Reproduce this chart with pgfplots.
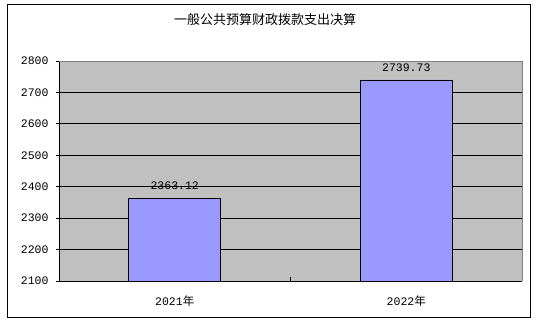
\documentclass[border=0pt]{standalone}
\usepackage{pgfplots}
\pgfplotsset{compat=1.18}
\usepackage{fontspec}
\setmainfont{Liberation Mono}
\newfontfamily\cjk{Noto Sans CJK SC}
\definecolor{plotbg}{RGB}{192,192,192}
\definecolor{barfill}{RGB}{153,153,255}
\definecolor{framegray}{RGB}{128,128,128}

\begin{document}
\begin{tikzpicture}[x=1pt,y=1pt]
% page and outer frame
\fill[white] (0,0) rectangle (537,329);
\draw[black, line width=1pt] (7,12) rectangle (530,324);
\node[font=\cjk\fontsize{13}{13}\selectfont] at (265,309) {一般公共预算财政拨款支出决算};
\begin{axis}[
  at={(59pt,48pt)}, anchor=south west,
  scale only axis, width=463pt, height=220pt,
  xmin=-0.5, xmax=1.5, ymin=2100, ymax=2800,
  ytick={2100,2200,...,2800},
  xtick={0,1},
  xticklabels={{2021{\cjk 年}},{2022{\cjk 年}}},
  extra x ticks={0.5}, extra x tick labels={},
  extra x tick style={tick align=inside, major tick length=4pt, xtick style={draw=black, line width=0.8pt}},
  xtick style={draw=none},
  ytick style={draw=black, line width=0.8pt},
  tick align=outside, major tick length=3pt,
  axis x line*=bottom, axis y line*=left,
  axis line style={black, line width=0.8pt, -},
  axis background/.style={fill=plotbg},
  ymajorgrids, major grid style={black, line width=0.8pt},
  /pgf/number format/1000 sep={},
  /pgf/number format/assume math mode=true,
  tick label style={font=\fontsize{11.5}{12}\selectfont},
  yticklabel style={xshift=-4pt},
  xticklabel style={yshift=-8pt},
  ybar, bar width=92pt,
  nodes near coords={\pgfmathprintnumber[fixed, precision=2, fixed zerofill, 1000 sep={}, assume math mode=true]{\pgfplotspointmeta}},
  nodes near coords style={font=\fontsize{11.5}{12}\selectfont, anchor=south, yshift=5pt},
  clip=false,
]
\addplot[draw=black, fill=barfill, line width=0.8pt] coordinates {(0,2363.12) (1,2739.73)};
\draw[framegray, line width=0.8pt] (rel axis cs:0,1) -- (rel axis cs:1,1) -- (rel axis cs:1,0);
\end{axis}
\end{tikzpicture}
\end{document}
